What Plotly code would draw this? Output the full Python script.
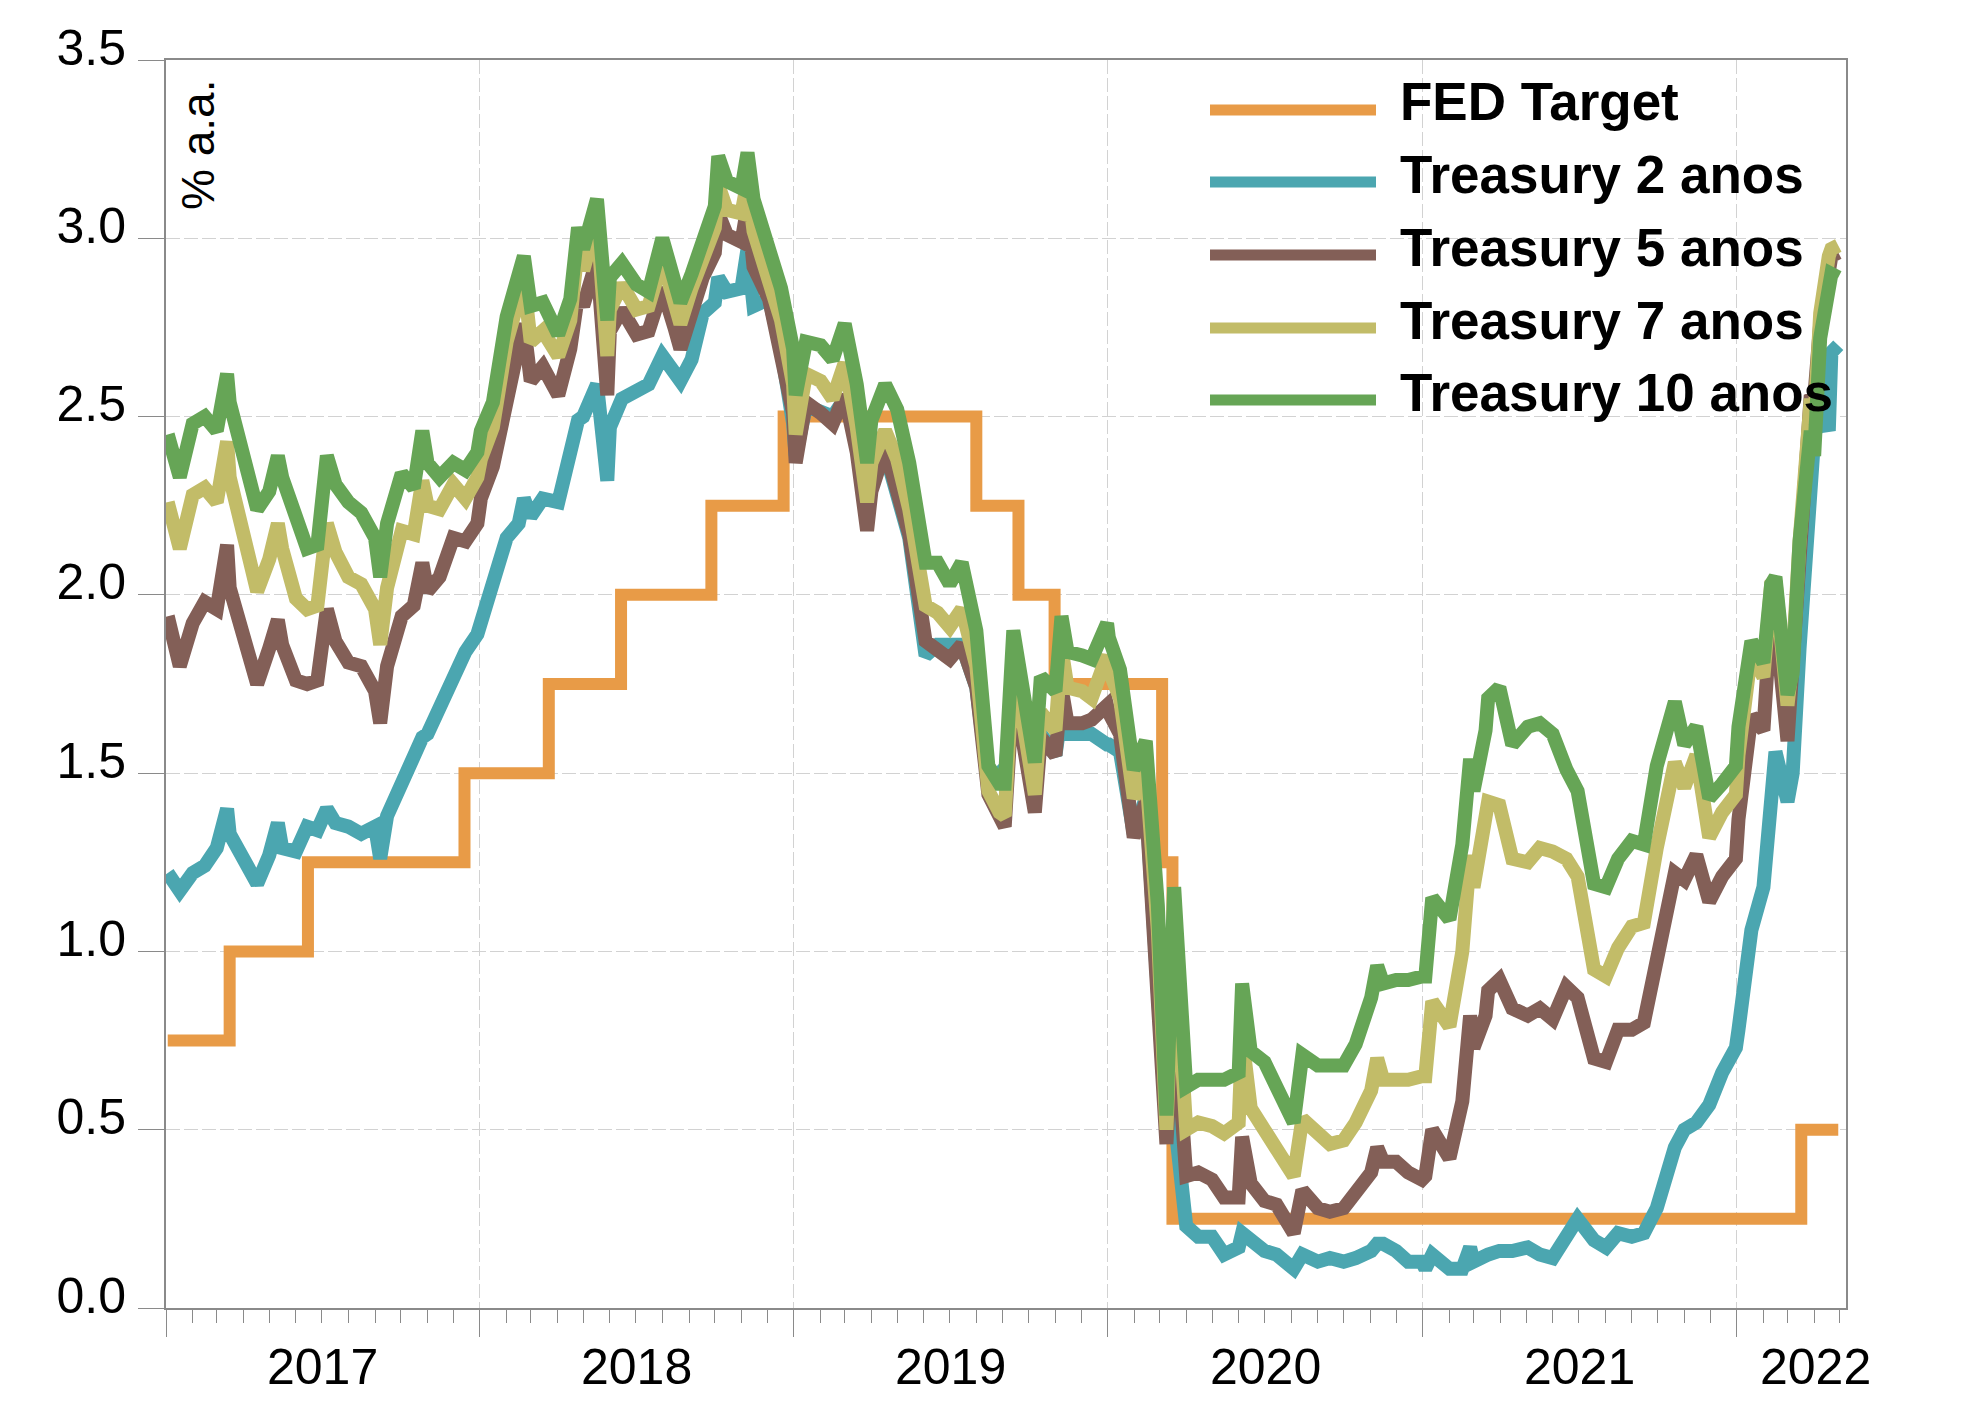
import plotly.graph_objects as go

# ---------------- data ----------------
dates = [
    "2017-01-03","2017-01-17","2017-02-01","2017-02-15","2017-03-01","2017-03-13","2017-03-16",
    "2017-04-03","2017-04-17","2017-05-01","2017-05-11","2017-05-16","2017-06-01","2017-06-14",
    "2017-06-26","2017-07-07","2017-07-17","2017-08-01","2017-08-16","2017-09-01","2017-09-07",
    "2017-09-15","2017-10-02","2017-10-16","2017-10-26","2017-11-01","2017-11-15","2017-12-01",
    "2017-12-15","2017-12-29",
    "2018-01-02","2018-01-16","2018-02-01","2018-02-15","2018-02-21","2018-03-01","2018-03-15",
    "2018-04-02","2018-04-16","2018-04-25","2018-05-01","2018-05-17","2018-05-29","2018-06-01",
    "2018-06-15","2018-07-02","2018-07-16","2018-08-01","2018-08-15","2018-08-22","2018-09-04",
    "2018-09-17","2018-10-01","2018-10-05","2018-10-15","2018-11-01","2018-11-08","2018-11-15",
    "2018-12-03","2018-12-17","2018-12-31",
    "2019-01-03","2019-01-15","2019-02-01","2019-02-15","2019-03-01","2019-03-15","2019-03-27",
    "2019-04-01","2019-04-17","2019-05-01","2019-05-15","2019-06-03","2019-06-17","2019-07-01",
    "2019-07-15","2019-08-01","2019-08-15","2019-08-28","2019-09-03","2019-09-13","2019-10-01",
    "2019-10-08","2019-10-15","2019-11-01","2019-11-08","2019-11-15","2019-12-02","2019-12-13",
    "2019-12-31",
    "2020-01-02","2020-01-15","2020-01-31","2020-02-14","2020-02-28","2020-03-09","2020-03-18",
    "2020-04-01","2020-04-15","2020-05-01","2020-05-15","2020-06-01","2020-06-05","2020-06-15",
    "2020-07-01","2020-07-15","2020-08-04","2020-08-14","2020-09-01","2020-09-15","2020-10-01",
    "2020-10-15","2020-11-02","2020-11-09","2020-11-16","2020-12-01","2020-12-15","2020-12-31",
    "2021-01-04","2021-01-12","2021-02-01","2021-02-16","2021-02-25","2021-03-01","2021-03-15",
    "2021-03-18","2021-03-31","2021-04-15","2021-05-03","2021-05-17","2021-06-01","2021-06-17",
    "2021-06-30","2021-07-19","2021-08-02","2021-08-16","2021-09-01","2021-09-15","2021-09-30",
    "2021-10-21","2021-11-01","2021-11-15","2021-11-30","2021-12-15","2021-12-31",
    "2022-01-03","2022-01-18","2022-02-01","2022-02-10","2022-02-15","2022-03-01","2022-03-07",
    "2022-03-15","2022-03-28","2022-04-01","2022-04-08","2022-04-18","2022-04-21","2022-04-29",
]

treasury_2 = [
    1.22,1.17,1.22,1.24,1.29,1.40,1.33,1.26,1.19,1.27,1.36,1.29,1.28,1.35,1.34,1.40,1.36,1.35,1.33,1.35,
    1.26,1.38,1.48,1.54,1.60,1.61,1.69,1.78,1.84,1.89,
    1.92,2.03,2.16,2.20,2.27,2.22,2.27,2.26,2.39,2.49,2.50,2.59,2.32,2.47,2.55,2.57,2.59,2.67,2.61,2.60,
    2.66,2.79,2.82,2.89,2.85,2.86,2.97,2.81,2.83,2.69,2.48,
    2.39,2.53,2.51,2.50,2.55,2.44,2.20,2.33,2.40,2.28,2.16,1.83,1.86,1.86,1.86,1.74,1.47,1.50,1.47,1.80,
    1.56,1.43,1.61,1.55,1.67,1.61,1.61,1.61,1.58,
    1.58,1.56,1.33,1.43,0.86,0.50,0.54,0.23,0.20,0.20,0.15,0.17,0.21,0.19,0.16,0.15,0.11,0.15,0.13,0.14,
    0.13,0.14,0.16,0.18,0.18,0.16,0.13,0.13,
    0.11,0.15,0.11,0.11,0.17,0.13,0.15,0.15,0.16,0.16,0.17,0.15,0.14,0.21,0.25,0.19,0.17,0.21,0.20,0.21,
    0.28,0.45,0.50,0.52,0.57,0.66,0.73,
    0.78,1.06,1.18,1.52,1.56,1.42,1.50,1.85,2.35,2.44,2.53,2.46,2.68,2.70,
]

treasury_5 = [
    1.94,1.80,1.92,1.98,1.96,2.14,2.02,1.86,1.75,1.85,1.93,1.86,1.76,1.75,1.76,1.96,1.87,1.81,1.80,1.73,
    1.64,1.80,1.94,1.97,2.09,2.01,2.05,2.16,2.15,2.20,
    2.27,2.36,2.57,2.70,2.76,2.60,2.64,2.56,2.69,2.84,2.81,2.94,2.56,2.74,2.80,2.73,2.74,2.86,2.75,2.69,
    2.79,2.89,2.96,3.07,3.01,2.99,3.09,2.92,2.83,2.69,2.51,
    2.37,2.54,2.51,2.48,2.56,2.40,2.18,2.29,2.41,2.30,2.17,1.87,1.84,1.82,1.86,1.74,1.44,1.37,1.35,1.75,
    1.51,1.39,1.60,1.55,1.74,1.64,1.64,1.65,1.69,
    1.67,1.61,1.32,1.42,0.94,0.46,0.85,0.37,0.38,0.36,0.31,0.31,0.48,0.35,0.30,0.29,0.21,0.33,0.28,0.27,
    0.28,0.32,0.38,0.45,0.41,0.41,0.38,0.36,
    0.37,0.50,0.42,0.58,0.82,0.73,0.82,0.89,0.92,0.84,0.82,0.84,0.81,0.90,0.87,0.70,0.69,0.78,0.78,0.80,
    0.98,1.22,1.20,1.27,1.14,1.21,1.26,
    1.37,1.66,1.62,1.96,1.93,1.59,1.77,2.10,2.56,2.55,2.76,2.92,2.95,2.96,
]

treasury_7 = [
    2.26,2.13,2.28,2.30,2.26,2.43,2.33,2.14,2.01,2.10,2.20,2.13,1.99,1.96,1.97,2.20,2.12,2.05,2.03,1.96,
    1.86,2.02,2.18,2.17,2.32,2.25,2.24,2.31,2.27,2.33,
    2.38,2.47,2.71,2.83,2.88,2.71,2.74,2.67,2.77,2.98,2.91,3.05,2.67,2.80,2.87,2.80,2.81,2.94,2.83,2.76,
    2.86,2.95,3.03,3.15,3.08,3.07,3.16,3.02,2.87,2.77,2.59,
    2.45,2.62,2.60,2.55,2.65,2.47,2.26,2.37,2.46,2.38,2.24,1.97,1.95,1.91,1.96,1.80,1.45,1.39,1.38,1.81,
    1.56,1.44,1.67,1.62,1.85,1.74,1.73,1.71,1.83,
    1.79,1.71,1.43,1.51,1.06,0.50,1.06,0.50,0.52,0.51,0.49,0.52,0.76,0.56,0.50,0.43,0.37,0.53,0.49,0.46,
    0.47,0.52,0.61,0.70,0.64,0.64,0.64,0.65,
    0.65,0.86,0.79,1.00,1.27,1.18,1.34,1.42,1.41,1.26,1.25,1.29,1.28,1.26,1.21,0.95,0.93,1.01,1.07,1.08,
    1.29,1.53,1.46,1.55,1.32,1.39,1.44,
    1.55,1.84,1.77,2.03,2.04,1.69,1.82,2.15,2.55,2.48,2.79,2.95,2.97,2.98,
]

treasury_10 = [
    2.45,2.33,2.48,2.50,2.46,2.62,2.54,2.35,2.24,2.29,2.39,2.33,2.21,2.13,2.14,2.39,2.31,2.26,2.23,2.16,
    2.05,2.20,2.34,2.30,2.46,2.37,2.33,2.37,2.35,2.40,
    2.46,2.54,2.78,2.91,2.95,2.81,2.82,2.73,2.83,3.03,2.97,3.11,2.77,2.89,2.93,2.87,2.85,3.00,2.89,2.82,
    2.90,2.99,3.09,3.23,3.16,3.14,3.24,3.11,2.98,2.86,2.69,
    2.56,2.71,2.70,2.66,2.76,2.59,2.37,2.49,2.59,2.52,2.37,2.09,2.09,2.03,2.09,1.90,1.52,1.47,1.47,1.90,
    1.65,1.53,1.77,1.73,1.94,1.84,1.83,1.82,1.92,
    1.88,1.79,1.51,1.59,1.13,0.54,1.18,0.62,0.64,0.64,0.64,0.66,0.91,0.72,0.69,0.62,0.52,0.71,0.68,0.68,
    0.68,0.74,0.87,0.96,0.91,0.92,0.92,0.93,
    0.93,1.15,1.09,1.30,1.54,1.45,1.62,1.71,1.74,1.58,1.63,1.64,1.61,1.51,1.45,1.19,1.18,1.26,1.31,1.30,
    1.52,1.70,1.58,1.63,1.43,1.47,1.52,
    1.63,1.87,1.81,2.03,2.05,1.72,1.78,2.15,2.46,2.39,2.72,2.85,2.90,2.89,
]

fed_dates = ["2017-01-03","2017-03-16","2017-06-15","2017-12-14","2018-03-22","2018-06-14",
             "2018-09-27","2018-12-20","2019-08-01","2019-09-19","2019-10-31","2020-03-04",
             "2020-03-16","2022-03-17","2022-04-29"]
fed_target = [0.75,1.00,1.25,1.50,1.75,2.00,2.25,2.50,2.25,2.00,1.75,1.25,0.25,0.50,0.50]

series_names = ["FED Target","Treasury 2 anos","Treasury 5 anos","Treasury 7 anos","Treasury 10 anos"]
series_colors = ["#E89B47","#4BA6B0","#835F57","#C2BC68","#66A556"]

year_labels = ["2017","2018","2019","2020","2021","2022"]
year_label_pos = ["2017-07-02","2018-07-02","2019-07-02","2020-07-02","2021-07-02","2022-04-03"]
y_ticks = [0.0,0.5,1.0,1.5,2.0,2.5,3.0,3.5]

# ---------------- figure ----------------
FONT = "Liberation Sans, Arial, sans-serif"
fig = go.Figure()

fig.add_trace(go.Scatter(x=fed_dates, y=fed_target, mode="lines", name=series_names[0],
                         line=dict(color=series_colors[0], width=12, shape="hv")))
for name, col, vals in zip(series_names[1:], series_colors[1:],
                           [treasury_2, treasury_5, treasury_7, treasury_10]):
    fig.add_trace(go.Scatter(x=dates, y=vals, mode="lines", name=name,
                             line=dict(color=col, width=14)))

W, H = 1962, 1404
L, R, T, B = 166, 116, 60, 96
PW, PH = W - L - R, H - T - B

def px(xf):
    return (xf - L) / PW

def py(yf):
    return (H - B - yf) / PH

shapes = []
annotations = []

# manual legend
leg_line_y = [110, 182, 255, 328, 400]
for name, col, ly in zip(series_names, series_colors, leg_line_y):
    shapes.append(dict(type="line", xref="paper", yref="paper",
                       x0=px(1210), x1=px(1376), y0=py(ly), y1=py(ly),
                       line=dict(color=col, width=11)))
    annotations.append(dict(text="<b>" + name + "</b>", xref="paper", yref="paper",
                            x=px(1398), y=py(ly - 8), xanchor="left", yanchor="middle",
                            showarrow=False, font=dict(family=FONT, size=53, color="black")))

# year labels
for lab, pos in zip(year_labels, year_label_pos):
    annotations.append(dict(text=lab, x=pos, xref="x", yref="paper", y=py(1367),
                            xanchor="center", yanchor="middle", showarrow=False,
                            font=dict(family=FONT, size=50, color="black")))

# unit label
annotations.append(dict(text="% a.a.", xref="paper", yref="paper", x=px(198), y=py(145),
                        xanchor="center", yanchor="middle", textangle=-90, showarrow=False,
                        font=dict(family=FONT, size=46, color="black")))

fig.update_layout(
    width=W, height=H,
    margin=dict(l=L, r=R, t=T, b=B, pad=0),
    paper_bgcolor="white", plot_bgcolor="white",
    showlegend=False,
    font=dict(family=FONT, size=50, color="black"),
    shapes=shapes, annotations=annotations,
)

fig.update_xaxes(
    type="date", range=["2017-01-01", "2022-05-08"],
    showgrid=True, gridcolor="#d2d2d2", gridwidth=1, griddash="14px,4px",
    tick0="2017-01-01", dtick="M12", ticks="outside", ticklen=27, tickcolor="#8a8a8a", tickwidth=1,
    showticklabels=False,
    minor=dict(dtick="M1", tick0="2017-01-01", ticks="outside", ticklen=13,
               tickcolor="#8a8a8a", tickwidth=1, showgrid=False),
    showline=True, linecolor="#8a8a8a", linewidth=2, mirror=True, zeroline=False,
)

fig.update_yaxes(
    range=[0, 3.5], tickvals=y_ticks, tickformat=".1f",
    showgrid=True, gridcolor="#d2d2d2", gridwidth=1, griddash="14px,4px",
    ticks="outside", ticklen=26, tickcolor="#8a8a8a", tickwidth=1,
    ticklabelstandoff=2, ticklabelshift=-13,
    tickfont=dict(family=FONT, size=50, color="black"),
    showline=True, linecolor="#8a8a8a", linewidth=2, mirror=True, zeroline=False,
)

fig.write_html("out.html")
